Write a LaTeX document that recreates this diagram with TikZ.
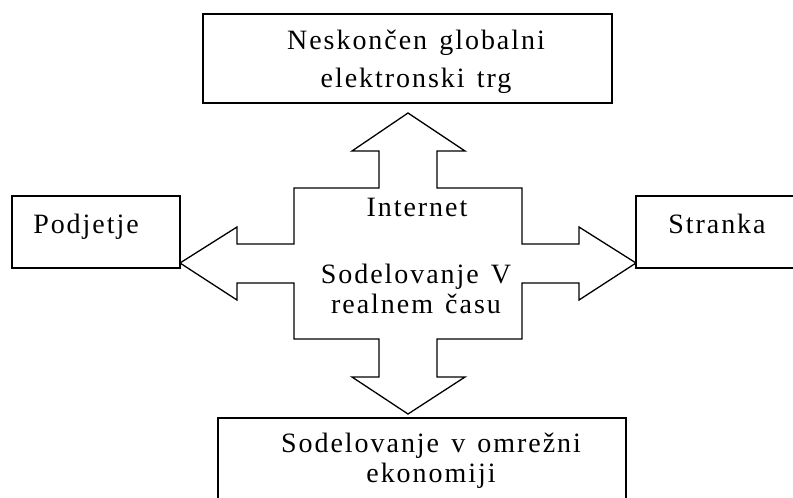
\documentclass[tikz,border=0pt]{standalone}
\usepackage{fontspec}
\setmainfont{Liberation Serif}[LetterSpace=7,WordSpace=1.35]
\begin{document}
\begin{tikzpicture}[x=1pt,y=-1pt,
  box/.style={draw,line width=1.3pt,inner sep=0pt},
  topbox/.style={box,line width=1.8pt},
  txt/.style={anchor=base,inner sep=0pt,font=\fontsize{28}{32}\selectfont},
  cross/.style={draw,line width=1.3pt,line join=miter}]
\useasboundingbox (0,0) rectangle (793,498);

% boxes
\node[topbox,minimum width=409pt,minimum height=89pt] (market) at (407.5,58.5) {};
\node[box,minimum width=168pt,minimum height=72pt] (firm) at (96,232) {};
\node[box,minimum width=180pt,minimum height=72pt] (client) at (726,232) {};
\node[box,minimum width=408pt,minimum height=120pt] (economy) at (422,478) {};

% four-way arrow
\draw[cross] (408,113) -- (465,151) -- (437,151) -- (437,188) -- (522,188)
  -- (522,244) -- (579,244) -- (579,227) -- (636,263) -- (579,300) -- (579,283)
  -- (522,283) -- (522,339) -- (437,339) -- (437,377) -- (465,377) -- (408,414)
  -- (352,377) -- (379,377) -- (379,339) -- (294,339) -- (294,283) -- (237,283)
  -- (237,300) -- (180,263) -- (237,227) -- (237,244) -- (294,244) -- (294,188)
  -- (379,188) -- (379,151) -- (352,151) -- cycle;

% labels
\node[txt] (m1) at (416,49) {Neskončen globalni};
\node[txt] (m2) at (416,87) {elektronski trg};
\node[txt] (f1) at (86,233) {Podjetje};
\node[txt] (c1) at (717,233) {Stranka};
\node[txt] (i1) at (417,216) {Internet};
\node[txt] (r1) at (416,283) {Sodelovanje V};
\node[txt] (r2) at (416,313) {realnem času};
\node[txt] (e1) at (431,452) {Sodelovanje v omrežni};
\node[txt] (e2) at (431,482) {ekonomiji};
\end{tikzpicture}
\end{document}
